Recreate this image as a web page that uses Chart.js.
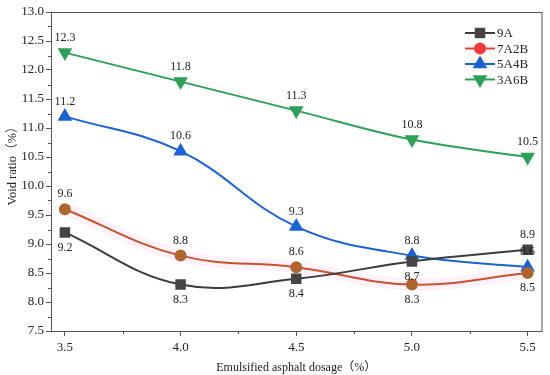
<!DOCTYPE html>
<html>
<head>
<meta charset="utf-8">
<script src="https://cdn.jsdelivr.net/npm/chart.js@4.4.0/dist/chart.umd.min.js"></script>
<style>
  html, body { margin: 0; padding: 0; background: #fff; }
  #wrap { width: 550px; height: 375px; }
</style>
</head>
<body>
<div id="wrap"><canvas id="myChart"></canvas></div>
<script>
// dosage on x axis (%)
const dosage = [3.5, 4.0, 4.5, 5.0, 5.5];
const xTicks = [3.5, 4.0, 4.5, 5.0, 5.5];
const yTicks = [7.5, 8.0, 8.5, 9.0, 9.5, 10.0, 10.5, 11.0, 11.5, 12.0, 12.5, 13.0];

// void ratio (%) for each gradation
const v9A = [9.2, 8.3, 8.4, 8.7, 8.9];
const v7A2B = [9.6, 8.8, 8.6, 8.3, 8.5];
const v5A4B = [11.2, 10.6, 9.3, 8.8, 8.6];
const v3A6B = [12.3, 11.8, 11.3, 10.8, 10.5];

// where the value label sits: 1 = above, -1 = below
const pos9A = [-1, -1, -1, -1, 1];
const pos7A2B = [1, 1, 1, -1, -1];
const pos5A4B = [1, 1, 1, 1, 1];
const pos3A6B = [1, 1, 1, 1, 1];

const ctx = document.getElementById('myChart');
const serif = '"Liberation Serif", "Times New Roman", "Noto Sans CJK SC", serif';

const pts = arr => arr.map((v, i) => ({ x: dosage[i], y: v }));

function series(label, values, color, style, legendColor, fill, rot) {
  const radius = { rect: 6, circle: 5, triangle: 6.5 }[style];
  return {
    label: label,
    data: pts(values),
    borderColor: color,
    backgroundColor: fill,
    pointBackgroundColor: fill,
    pointBorderColor: fill,
    pointStyle: style,
    pointRotation: rot || 0,
    pointRadius: radius,
    borderWidth: 2,
    tension: 0.4,
    legendColor: legendColor
  };
}

const data = {
  datasets: [
    series('9A', v9A, '#3c3c3c', 'rect', '#3c3c3c', '#444'),
    series('7A2B', v7A2B, '#c4542c', 'circle', '#f03a3a', '#b0652e'),
    series('5A4B', v5A4B, '#1d62d2', 'triangle', '#1d62d2', '#1d62d2'),
    series('3A6B', v3A6B, '#2ea05a', 'triangle', '#2ea05a', '#2ea05a', 180),
    // faint pink halo behind 7A2B
    {
      label: 'halo',
      data: pts(v7A2B),
      borderColor: 'rgba(255, 190, 240, 0.22)',
      borderWidth: 12,
      pointRadius: 0,
      tension: 0.4,
      order: 10
    }
  ]
};

const labelPos = [pos9A, pos7A2B, pos5A4B, pos3A6B];

// value labels, frame, minor ticks, y title and legend
const extras = {
  id: 'extras',
  afterDatasetsDraw(chart) {
    const c = chart.ctx;
    const area = chart.chartArea;
    const xs = chart.scales.x, ys = chart.scales.y;
    c.save();

    // frame
    c.strokeStyle = '#555';
    c.lineWidth = 1;
    c.strokeRect(area.left + 0.5, area.top + 0.5, area.right - area.left, area.bottom - area.top);

    // minor ticks
    c.beginPath();
    for (let i = 0; i < xTicks.length - 1; i++) {
      const px = Math.round(xs.getPixelForValue((xTicks[i] + xTicks[i + 1]) / 2)) + 0.5;
      c.moveTo(px, area.bottom);
      c.lineTo(px, area.bottom + 3);
    }
    for (let i = 0; i < yTicks.length - 1; i++) {
      const py = Math.round(ys.getPixelForValue((yTicks[i] + yTicks[i + 1]) / 2)) + 0.5;
      c.moveTo(area.left, py);
      c.lineTo(area.left - 3, py);
    }
    c.stroke();

    // y axis title
    c.save();
    c.translate(13, 163);
    c.rotate(-Math.PI / 2);
    c.font = '12.5px ' + serif;
    c.fillStyle = '#222';
    c.textAlign = 'center';
    c.textBaseline = 'middle';
    c.fillText('Void ratio（%）', 0, 0);
    c.restore();

    // value labels
    c.font = '12px ' + serif;
    c.fillStyle = '#222';
    c.textAlign = 'center';
    c.textBaseline = 'middle';
    for (let d = 0; d < 4; d++) {
      const meta = chart.getDatasetMeta(d);
      const vals = chart.data.datasets[d].data;
      meta.data.forEach((p, i) => {
        const dir = labelPos[d][i];
        c.fillText(vals[i].y.toFixed(1), p.x, p.y - dir * 15);
      });
    }

    // legend
    c.font = '13px ' + serif;
    c.textAlign = 'left';
    for (let d = 0; d < 4; d++) {
      const ds = chart.data.datasets[d];
      const y = 33 + d * 15.5;
      c.strokeStyle = ds.legendColor;
      c.lineWidth = 2;
      c.beginPath();
      c.moveTo(465, y);
      c.lineTo(495, y);
      c.stroke();
      c.fillStyle = d === 1 ? '#f03a3a' : ds.pointBackgroundColor;
      c.strokeStyle = c.fillStyle;
      Chart.helpers.drawPoint(c, {
        pointStyle: ds.pointStyle,
        radius: ds.pointRadius,
        rotation: ds.pointRotation,
        borderWidth: 1
      }, 480, y);
      c.fillStyle = '#222';
      c.fillText(ds.label, 497, y + 1);
    }
    c.restore();
  }
};

new Chart(ctx, {
  type: 'line',
  data: data,
  options: {
    responsive: true,
    maintainAspectRatio: false,
    animation: false,
    layout: { padding: { top: 12, right: 7, left: 0, bottom: 0 } },
    plugins: {
      legend: { display: false },
      tooltip: { enabled: false }
    },
    scales: {
      x: {
        type: 'linear',
        min: 3.44,
        max: 5.56,
        afterBuildTicks: s => { s.ticks = xTicks.map(v => ({ value: v })); },
        afterFit: s => { s.height = 44; },
        grid: { drawOnChartArea: false, tickLength: 5, color: '#555' },
        border: { color: '#555' },
        ticks: {
          color: '#222',
          padding: 4,
          font: { family: serif, size: 13 },
          callback: v => v.toFixed(1)
        },
        title: {
          display: true,
          text: 'Emulsified asphalt dosage（%）',
          color: '#222',
          font: { family: serif, size: 12 },
          padding: { top: 6, bottom: 0 }
        }
      },
      y: {
        min: 7.5,
        max: 13,
        afterBuildTicks: s => { s.ticks = yTicks.map(v => ({ value: v })); },
        afterFit: s => { s.width = 51; },
        grid: { drawOnChartArea: false, tickLength: 5, color: '#555' },
        border: { color: '#555' },
        ticks: {
          color: '#222',
          padding: 2,
          font: { family: serif, size: 13 },
          callback: v => v.toFixed(1)
        },
        title: { display: false }
      }
    }
  },
  plugins: [extras]
});
</script>
</body>
</html>
